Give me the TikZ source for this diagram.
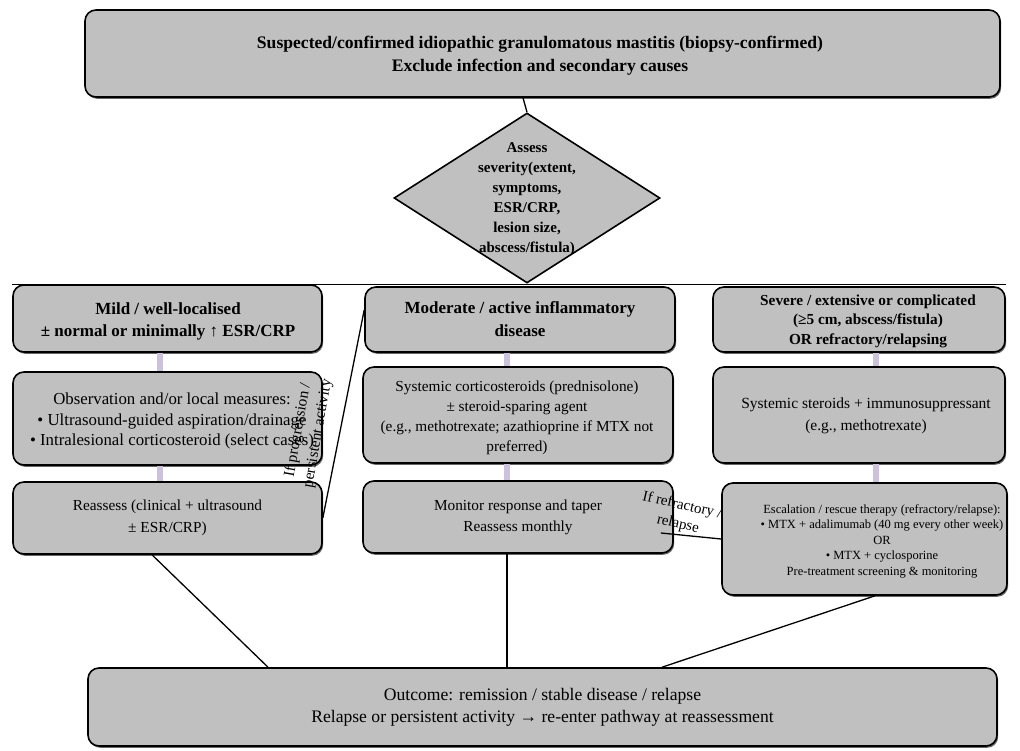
\documentclass[tikz,border=0pt]{standalone}
\usepackage{fontspec}
\setmainfont{Liberation Serif}
\usetikzlibrary{shapes.geometric,shadows,calc}
\definecolor{boxgray}{RGB}{192,192,192}
\definecolor{lav}{RGB}{204,194,220}
\newcommand{\fsz}[2]{\fontsize{#1}{#2}\selectfont}
\begin{document}
\begin{tikzpicture}[x=1pt,y=-1pt,
  box/.style={draw=black, line width=1.6pt, fill=boxgray, rounded corners=11pt,
    align=center, inner sep=0pt,
    drop shadow={shadow xshift=1.2pt, shadow yshift=-1.8pt, fill=black!75, opacity=.8}},
  txt/.style={align=center, inner sep=0pt},
  bar/.style={draw=lav, line width=6pt},
  conn/.style={draw=black, line width=1.3pt},
  lbl/.style={align=center, inner sep=0pt, font=\fsz{15.5}{20}}
]
\useasboundingbox[fill=white] (0,0) rectangle (1020,751);

% top box
\node[box, minimum width=915pt, minimum height=87pt] (T) at (542.5,53.5) {};
\node[txt, font=\bfseries\fsz{17.6}{23}] (Tt) at (540,56)
  {Suspected/confirmed idiopathic granulomatous mastitis (biopsy-confirmed)\\Exclude infection and secondary causes};

% decision
\node[draw=black, line width=1.6pt, fill=boxgray, diamond, minimum width=266pt, minimum height=170pt, inner sep=0pt] (D) at (527,198) {};
\node[txt, font=\bfseries\fsz{15}{20}] (Dt) at (527,199)
  {Assess\\severity(extent,\\symptoms,\\ESR/CRP,\\lesion size,\\abscess/fistula)};

% left column
\node[box, minimum width=309pt, minimum height=67pt] (L1) at (167.5,318.5) {};
\node[txt, font=\bfseries\fsz{17}{22}] (L1t) at (168,321)
  {Mild / well-localised\\± normal or minimally ↑ ESR/CRP};
\node[box, minimum width=309pt, minimum height=93pt] (L2) at (167.5,418.5) {};
\node[txt, font=\fsz{16.8}{20.5}] (L2t) at (172,421)
  {Observation and/or local measures:\\• Ultrasound-guided aspiration/drainage\\• Intralesional corticosteroid (select cases)};
\node[box, minimum width=309pt, minimum height=72pt, font=\fsz{15.3}{21.5}] (L3) at (167.5,518)
  {Reassess (clinical + ultrasound\\± ESR/CRP)};

% middle column
\node[box, minimum width=310pt, minimum height=65pt, font=\bfseries\fsz{17}{23}] (M1) at (520,319.5)
  {Moderate / active inflammatory\\disease};
\node[box, minimum width=310pt, minimum height=96pt] (M2) at (518,415) {};
\node[txt, font=\fsz{15.3}{20}] (M2t) at (517,418)
  {Systemic corticosteroids (prednisolone)\\± steroid-sparing agent\\(e.g., methotrexate; azathioprine if MTX not\\preferred)};
\node[box, minimum width=310pt, minimum height=72pt, font=\fsz{15.3}{21}] (M3) at (518,517)
  {Monitor response and taper\\Reassess monthly};

% right column
\node[box, minimum width=292pt, minimum height=65pt] (R1) at (859,319.5) {};
\node[txt, font=\bfseries\fsz{15.3}{19.5}] (R1t) at (868,321)
  {Severe / extensive or complicated\\(≥5 cm, abscess/fistula)\\OR refractory/relapsing};
\node[box, minimum width=292pt, minimum height=96pt] (R2) at (859,415) {};
\node[txt, font=\fsz{15.5}{22}] (R2t) at (866,416)
  {Systemic steroids + immunosuppressant\\(e.g., methotrexate)};
\node[box, minimum width=285pt, minimum height=112pt] (R3) at (864.5,539) {};
\node[txt, font=\fsz{12.5}{15.5}] (R3t) at (882,541)
  {Escalation / rescue therapy (refractory/relapse):\\• MTX + adalimumab (40 mg every other week)\\OR\\• MTX + cyclosporine\\Pre-treatment screening \& monitoring};

% bottom box
\node[box, minimum width=909pt, minimum height=78pt, font=\fsz{17.6}{22}] (B) at (542.5,707)
  {Outcome: remission / stable disease / relapse\\Relapse or persistent activity → re-enter pathway at reassessment};

% helper x positions
\coordinate (xT) at (523,0);
\coordinate (xL) at (160,0);
\coordinate (xM) at (507,0);
\coordinate (xR) at (876,0);
\coordinate (xLo) at (152,0);
\coordinate (xLb) at (268,0);
\coordinate (xRo) at (875,0);
\coordinate (xRb) at (662,0);

% connectors
\draw[conn] (T.south -| xT) -- (D.north);
\draw[conn] (L1.north west) -- (L1.north west -| R1.north east);

\draw[bar] (L1.south -| xL) -- (L2.north -| xL);
\draw[bar] (L2.south -| xL) -- (L3.north -| xL);
\draw[bar] (M1.south -| xM) -- (M2.north -| xM);
\draw[bar] (M2.south -| xM) -- (M3.north -| xM);
\draw[bar] (R1.south -| xR) -- (R2.north -| xR);
\draw[bar] (R2.south -| xR) -- (R3.north -| xR);

\draw[conn] (L3.east) -- ([yshift=9.5pt]M1.west);
\draw[conn] ([shift={(-13pt,-16pt)}]M3.east) -- (R3.west);

\draw[conn] (L3.south -| xLo) -- (B.north -| xLb);
\draw[conn] (M3.south -| xM) -- (B.north -| xM);
\draw[conn] (R3.south -| xRo) -- (B.north -| xRb);

% labels
\node[lbl, rotate=80] (lp) at (308,432) {If progression /\\persistent activity};
\node[lbl, rotate=-13, font=\fsz{15}{19}] (lr) at (680,515) {If refractory /\\relapse};
\end{tikzpicture}
\end{document}
